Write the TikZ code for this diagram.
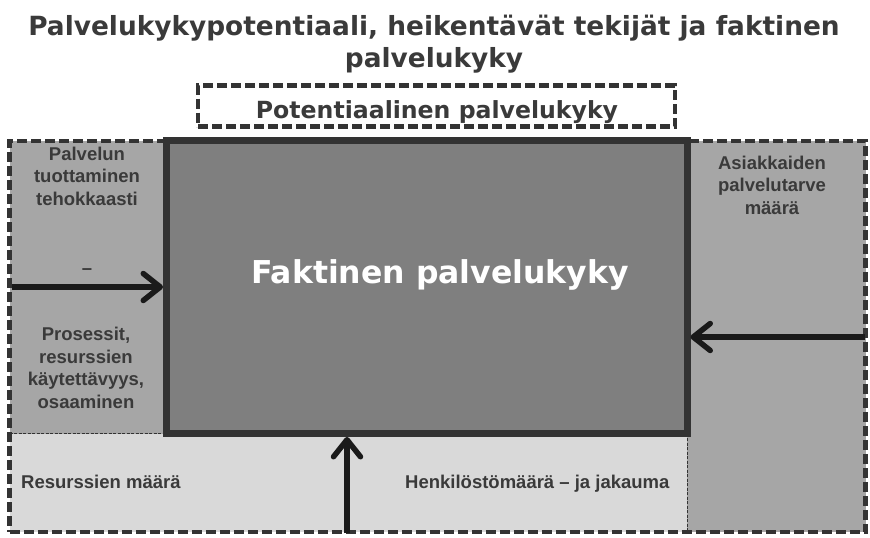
\documentclass[tikz,border=0pt]{standalone}
\usepackage{fontspec}
\setmainfont{Liberation Sans}
\newfontfamily\vfont{DejaVu Sans}
\usetikzlibrary{arrows.meta}
\definecolor{framec}{HTML}{333333}
\definecolor{midgray}{HTML}{A6A6A6}
\definecolor{palegray}{HTML}{D9D9D9}
\definecolor{coregray}{HTML}{7F7F7F}
\definecolor{txt}{HTML}{3A3A3A}
\definecolor{arr}{HTML}{1A1A1A}
\begin{document}
\begin{tikzpicture}[x=1pt,y=-1pt,
  bigdash/.style={draw=framec, line width=4.5pt, dash pattern=on 10pt off 4pt, inner sep=0pt},
  thindash/.style={draw=framec, line width=0.9pt, dash pattern=on 3pt off 1.5pt},
  body/.style={font=\bfseries\fontsize{18.5}{22.5}\selectfont, text=txt, inner sep=0pt, align=center},
  heading/.style={font=\vfont\bfseries\fontsize{26.4}{32}\selectfont, text=txt, inner sep=0pt, align=center},
  flow/.style={draw=arr, line width=5.5pt, -{Straight Barb[length=17pt,width=27pt,round]}}
]
\useasboundingbox (0,0) rectangle (870,538);
% background regions
\fill[midgray] (9.5,141) rectangle (166.5,433.5);
\fill[midgray] (687,141) rectangle (865.5,532);
\fill[palegray] (9.5,433.5) rectangle (687,532);
\draw[thindash] (9.5,433.5) -- (166.5,433.5);
\draw[thindash] (687,433.5) -- (687,532);
% central box
\node[draw=framec, fill=coregray, line width=7pt, minimum width=520.5pt, minimum height=293pt, inner sep=0pt] (core) at (426.75,287) {};
\node[font=\vfont\bfseries\fontsize{31.5}{36}\selectfont, text=white, inner sep=0pt, anchor=base] (coretext) at (440,283) {Faktinen palvelukyky};
% outer frame
\node[bigdash, minimum width=856pt, minimum height=391pt] (outer) at (437.5,336.5) {};
% potential box
\node[bigdash, minimum width=477pt, minimum height=41pt] (pot) at (436.5,106) {};
\node[heading, font=\vfont\bfseries\fontsize{23.6}{28}\selectfont, anchor=base] (pottext) at (437,118) {Potentiaalinen palvelukyky};
% title
\node[heading, anchor=base] (title) at (434,67) {Palvelukykypotentiaali, heikentävät tekijät ja faktinen\\palvelukyky};
% arrows
\coordinate (lin) at (12,287);
\coordinate (rin) at (865,337);
\coordinate (bin) at (347,533);
\draw[flow] (lin) -- (core.west);
\draw[flow] (rin) -- (core.east |- rin);
\draw[flow] (bin) -- (core.south -| bin);
% texts
\node[body, anchor=base] (lefttop) at (87,205) {Palvelun\\tuottaminen\\tehokkaasti};
\node[body, anchor=base] (minus) at (87,274.5) {–};
\node[body, anchor=base] (leftbot) at (86,408) {Prosessit,\\resurssien\\käytettävyys,\\osaaminen};
\node[body, anchor=base] (righttop) at (772,214) {Asiakkaiden\\palvelutarve\\määrä};
\node[body, anchor=base west] (resurs) at (21,488) {Resurssien määrä};
\node[body, anchor=base west] (henk) at (405,488) {Henkilöstömäärä – ja jakauma};
\end{tikzpicture}
\end{document}
